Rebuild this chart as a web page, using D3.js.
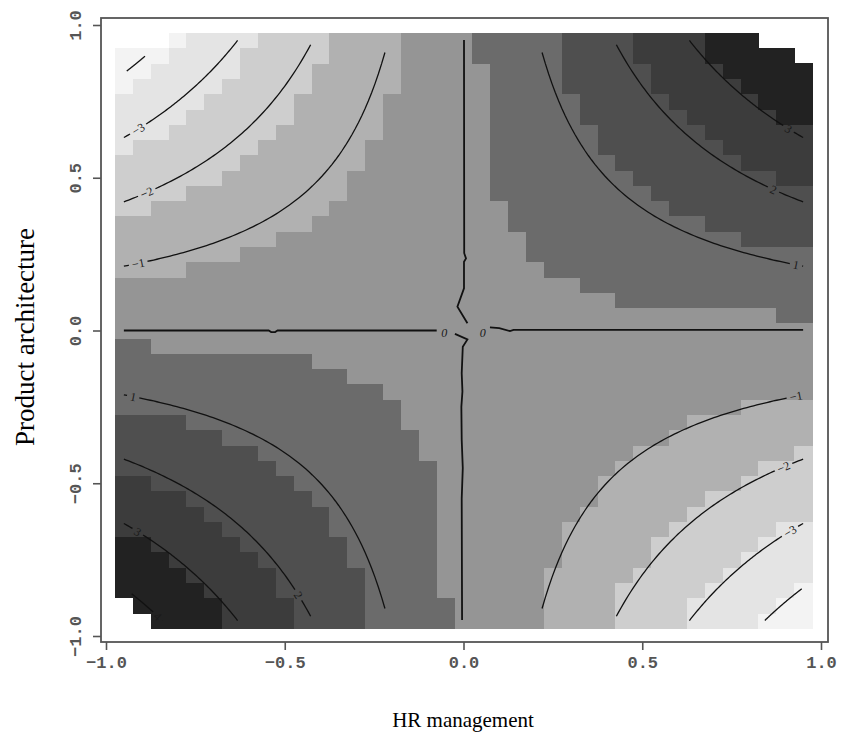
<!DOCTYPE html>
<html><head><meta charset="utf-8">
<script src="https://cdn.jsdelivr.net/npm/d3@7"></script>
<style>body{margin:0;background:#fff}</style>
</head><body>
<svg id="chart" width="841" height="743"></svg>
<script>
// ---------------- data ----------------
const xTicks = [-1.0, -0.5, 0.0, 0.5, 1.0];
const yTicks = [-1.0, -0.5, 0.0, 0.5, 1.0];
const xLabel = "HR management";
const yLabel = "Product architecture";
// grid of the response surface (cell centres)
const gridValues = [-0.95,-0.90,-0.85,-0.80,-0.75,-0.70,-0.65,-0.60,-0.55,-0.50,-0.45,-0.40,-0.35,-0.30,-0.25,-0.20,-0.15,-0.10,-0.05,0.00,
                    0.05,0.10,0.15,0.20,0.25,0.30,0.35,0.40,0.45,0.50,0.55,0.60,0.65,0.70,0.75,0.80,0.85,0.90,0.95];
const cellHalf = [0.025];
// fitted interaction surface: z = coef * HR * PA
const interactionCoef = [5.0];
// grey-level band breaks read per quadrant (TL, TR, BL, BR)
const breaksTL = [-3.675, -2.7, -1.725, -0.75, 0.225, 1.2, 2.175, 3.15];
const breaksTR = [-3.675, -2.7, -1.725, -0.75, 0.225, 1.2, 2.175, 3.15];
const breaksBL = [-3.675, -2.7, -1.725, -0.75, 0.225, 1.2, 2.175, 3.15];
const breaksBR = [-3.85, -2.88, -1.9, -0.97, 0.225, 1.2, 2.175, 3.15];
const fillColors = ["#f3f3f3","#e4e4e4","#cecece","#b1b1b1","#959595","#6b6b6b","#4f4f4f","#3c3c3c","#222222"];
// cells left blank (no value) [HR, PA]
const missingCells = [[-0.95,0.95],[-0.90,0.95],[-0.85,0.95],
                      [0.85,0.95],[0.90,0.95],[0.95,0.95],[0.95,0.90],
                      [-0.95,-0.90],[-0.95,-0.95],[-0.90,-0.95]];
// contour pieces: level and HR extent
const contourPieces = [
  {level:-4, x0:-0.942, x1:-0.891},
  {level:-3, x0:-0.95, x1:-0.632},
  {level:-2, x0:-0.95, x1:-0.421},
  {level:-1, x0:-0.95, x1:-0.2105},
  {level:1, x0:0.2105, x1:0.95},
  {level:2, x0:0.421, x1:0.95},
  {level:3, x0:0.632, x1:0.95},
  {level:1, x0:-0.95, x1:-0.2105},
  {level:2, x0:-0.95, x1:-0.421},
  {level:3, x0:-0.95, x1:-0.632},
  {level:4, x0:-0.928, x1:-0.842},
  {level:-1, x0:0.2105, x1:0.95},
  {level:-2, x0:0.421, x1:0.95},
  {level:-3, x0:0.632, x1:0.95},
  {level:-4, x0:0.843, x1:0.946}
];
// contour labels: level and HR position along the line
const contourLabels = [
  {level:-3, x:-0.91}, {level:-2, x:-0.886}, {level:-1, x:-0.91},
  {level:1, x:0.93}, {level:2, x:0.867}, {level:3, x:0.909},
  {level:1, x:-0.924}, {level:2, x:-0.462}, {level:3, x:-0.911}, {level:4, x:-0.855},
  {level:-1, x:0.93}, {level:-2, x:0.895}, {level:-3, x:0.913}
];
// zero contour [HR, PA]
const zeroContourPieces = [
  [[-0.95,0.0],[-0.545,0.0],[-0.538,-0.005],[-0.527,-0.005],[-0.52,0.0],[-0.075,0.0]],
  [[0.074,0.010],[0.10,0.008],[0.13,-0.002],[0.14,0.002],[0.95,0.002]],
  [[0.0014,0.951],[0.002,0.253],[0.007,0.236],[0.0014,0.225],[0.0014,0.138],[-0.017,0.078],[0.011,0.024]],
  [[-0.024,-0.011],[0.011,-0.029],[-0.002,-0.053],[-0.005,-0.14],[-0.003,-0.20],[-0.006,-0.25],[-0.005,-0.358],[-0.002,-0.45],[-0.005,-0.55],[-0.004,-0.948]]
];
const zeroLabels = [[-0.054,-0.007],[0.054,-0.007]];

// ---------------- drawing ----------------
const svg = d3.select("#chart");
const x = d3.scaleLinear().domain([-1, 1]).range([106, 821]);
const y = d3.scaleLinear().domain([-1, 1]).range([636, 25]);
const b = interactionCoef[0], h = cellHalf[0];
const isMissing = (cx, cy) => missingCells.some(m => Math.abs(m[0]-cx) < 1e-6 && Math.abs(m[1]-cy) < 1e-6);
const breaksFor = (cx, cy) => cy >= 0 ? (cx < 0 ? breaksTL : breaksTR) : (cx < 0 ? breaksBL : breaksBR);

const cells = [];
gridValues.forEach(cy => gridValues.forEach(cx => {
  if (!isMissing(cx, cy)) cells.push({cx, cy, z: b*cx*cy});
}));
svg.append("g").attr("shape-rendering","crispEdges")
  .selectAll("rect").data(cells).join("rect")
  .attr("x", d => x(d.cx - h)).attr("y", d => y(d.cy + h))
  .attr("width", d => x(d.cx + h) - x(d.cx - h) + 0.5)
  .attr("height", d => y(d.cy - h) - y(d.cy + h) + 0.5)
  .attr("fill", d => fillColors[d3.bisect(breaksFor(d.cx, d.cy), d.z)]);

// label gaps mask
const defs = svg.append("defs");
const mask = defs.append("mask").attr("id","lblmask").attr("maskUnits","userSpaceOnUse")
  .attr("x",0).attr("y",0).attr("width",841).attr("height",743);
mask.append("rect").attr("width",841).attr("height",743).attr("fill","white");

function labelGeom(l) {
  const yy = l.level / (b * l.x);
  const slope = -yy / l.x; // dPA/dHR
  const dxp = x(l.x + 0.01) - x(l.x), dyp = y(yy + slope*0.01) - y(yy);
  let ang = Math.atan2(dyp, dxp) * 180 / Math.PI;
  if (ang > 90) ang -= 180; if (ang < -90) ang += 180;
  return {px: x(l.x), py: y(yy), ang, text: String(l.level), italic: false};
}
const labs = contourLabels.map(labelGeom)
  .concat(zeroLabels.map(p => ({px: x(p[0]), py: y(p[1]), ang: 0, text: "0", italic: true})));
labs.forEach(d => {
  const w = d.text.length * 6.5 + 6;
  mask.append("rect").attr("x", -w/2).attr("y", -5.5).attr("width", w).attr("height", 11)
    .attr("fill","black").attr("transform", `translate(${d.px},${d.py}) rotate(${d.ang})`);
});

const line = d3.line().x(p => x(p[0])).y(p => y(p[1])).curve(d3.curveLinear);
const gLines = svg.append("g").attr("mask","url(#lblmask)")
  .attr("fill","none").attr("stroke","#111").attr("stroke-width",1.3);
contourPieces.forEach(c => {
  const n = 80, pts = [];
  for (let i = 0; i <= n; i++) {
    const xv = c.x0 + (c.x1 - c.x0) * i / n;
    const yv = c.level / (b * xv);
    if (Math.abs(yv) <= 0.9501) pts.push([xv, yv]);
  }
  gLines.append("path").attr("d", line(pts));
});
zeroContourPieces.forEach(p => gLines.append("path").attr("d", line(p)).attr("stroke-width",1.8));

svg.append("g").selectAll("text").data(labs).join("text")
  .attr("transform", d => `translate(${d.px},${d.py}) rotate(${d.ang})`)
  .attr("text-anchor","middle").attr("dy","0.35em")
  .attr("font-family","Liberation Serif, serif").attr("font-style", d => d.italic ? "italic" : "normal")
  .attr("font-size", 12).attr("fill","#1a1a1a").text(d => d.text.replace("-", "\u2212"));

// box
svg.append("rect").attr("x",101).attr("y",18).attr("width",727).attr("height",624)
  .attr("fill","none").attr("stroke","#555").attr("stroke-width",1.8);

// axes
const fmt = d3.format(".1f");
const tickFont = "Liberation Mono, monospace";
const ax = svg.append("g").attr("transform","translate(0,642)")
  .call(d3.axisBottom(x).tickValues(xTicks).tickSize(8).tickPadding(6).tickFormat(fmt));
ax.select(".domain").remove();
ax.selectAll("line").attr("stroke","#555").attr("stroke-width",1.6);
ax.selectAll("text").attr("font-family",tickFont).attr("font-weight","bold").attr("font-size",17).attr("fill","#555");

const ay = svg.append("g").attr("transform","translate(101,0)")
  .call(d3.axisLeft(y).tickValues(yTicks).tickSize(8).tickFormat(fmt));
ay.select(".domain").remove();
ay.selectAll("line").attr("stroke","#555").attr("stroke-width",1.6);
ay.selectAll("text").attr("font-family",tickFont).attr("font-weight","bold").attr("font-size",17).attr("fill","#555")
  .attr("transform","rotate(-90)").attr("x",0).attr("y",-20).attr("dy",0).attr("text-anchor","middle");

svg.append("text").attr("x", 463).attr("y", 727).attr("text-anchor","middle")
  .attr("font-family","Liberation Serif, serif").attr("font-size",21).attr("fill","#000").text(xLabel);
svg.append("text").attr("transform","translate(34,337) rotate(-90)").attr("text-anchor","middle")
  .attr("font-family","Liberation Serif, serif").attr("font-size",27).attr("fill","#000").text(yLabel);
</script>
</body></html>
